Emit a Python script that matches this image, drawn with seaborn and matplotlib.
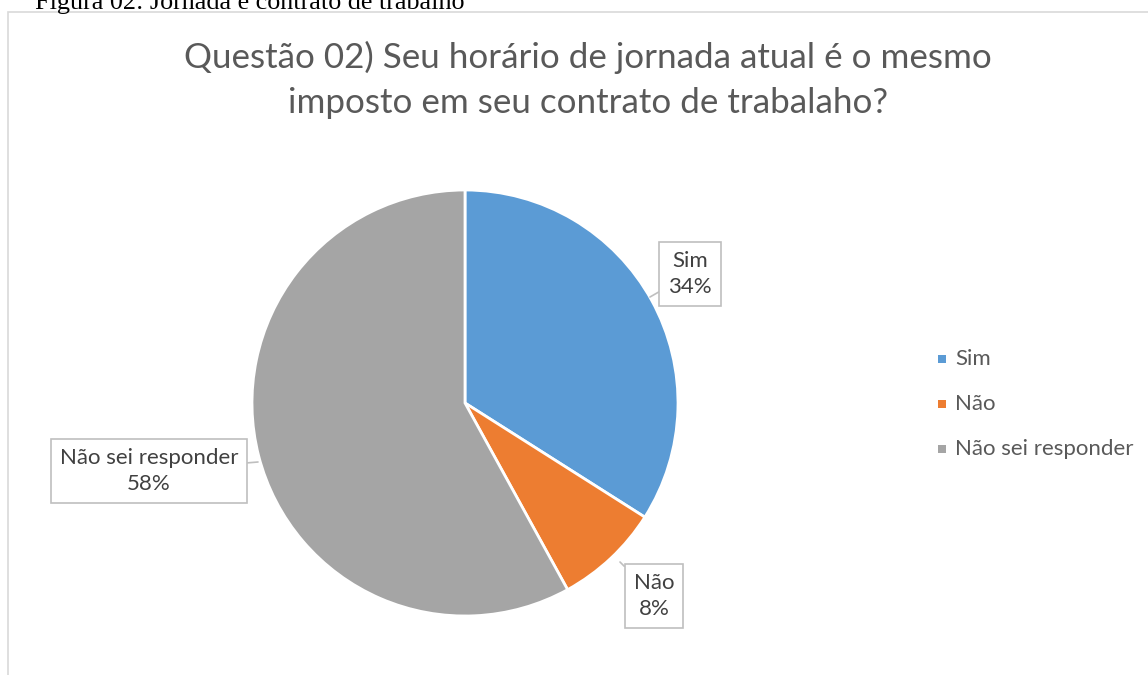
import matplotlib
matplotlib.use('Agg')
import matplotlib.pyplot as plt
import seaborn as sns
from matplotlib.patches import Rectangle

# data
categorias = ['Sim', 'Não', 'Não sei responder']
percentuais = [34, 8, 58]
cores = ['#5B9BD5', '#ED7D31', '#A5A5A5']
titulo = 'Questão 02) Seu horário de jornada atual é o mesmo\nimposto em seu contrato de trabalaho?'
legenda_fig = 'Figura 02: Jornada e contrato de trabalho'

sns.set_theme(style='white')
plt.rcParams['font.family'] = ['Lato', 'DejaVu Sans']

W, H = 1148, 675
fig = plt.figure(figsize=(W / 100, H / 100), dpi=100)

# chart frame
fig.patches.append(Rectangle((8 / W, -0.01), 1.0, 1 - 12 / H + 0.01, transform=fig.transFigure,
                             fill=False, edgecolor='#d9d9d9', linewidth=1.2))
fig.text(35 / W, 1 - 9 / H, legenda_fig, family='Liberation Serif', fontsize=18.8,
         color='black', va='baseline', ha='left')

fig.text(588 / W, 1 - 80 / H, titulo, ha='center', va='center', fontsize=25.2,
         color='#595959', linespacing=1.5)

cx, cy, r = 465, 403, 213
ax = fig.add_axes([(cx - r) / W, 1 - (cy + r) / H, 2 * r / W, 2 * r / H])
ax.pie(percentuais, colors=sns.color_palette(cores), startangle=90, counterclock=False,
       wedgeprops=dict(edgecolor='white', linewidth=2), radius=1)
ax.set_xlim(-1, 1)
ax.set_ylim(-1, 1)
ax.set_aspect('equal')
ax.axis('off')

def px2data(px, py):
    return ((px - cx) / r, (cy - py) / r)

rotulos = [
    (px2data(690, 274), px2data(650, 297)),
    (px2data(654, 596), px2data(620, 562)),
    (px2data(149, 471), px2data(258, 462)),
]
for (cat, val), (pos, tip) in zip(zip(categorias, percentuais), rotulos):
    ax.annotate(f'{cat}\n{val}%', xy=tip, xytext=pos, ha='center', va='center',
                fontsize=16, color='#404040', linespacing=1.35, annotation_clip=False,
                bbox=dict(boxstyle='square,pad=0.4', fc='white', ec='#bfbfbf', lw=1.2),
                arrowprops=dict(arrowstyle='-', color='#bfbfbf', lw=1.2, shrinkA=0, shrinkB=0))

# legend
for i, (cat, cor) in enumerate(zip(categorias, cores)):
    y = 1 - (359 + 45 * i) / H
    fig.patches.append(Rectangle((938 / W, y - 4 / H), 8 / W, 8 / H, transform=fig.transFigure,
                                 facecolor=cor, edgecolor='none'))
    fig.text(955 / W, y, cat, fontsize=16, color='#595959', va='center', ha='left')

fig.savefig('out.png', dpi=100, facecolor='white')
